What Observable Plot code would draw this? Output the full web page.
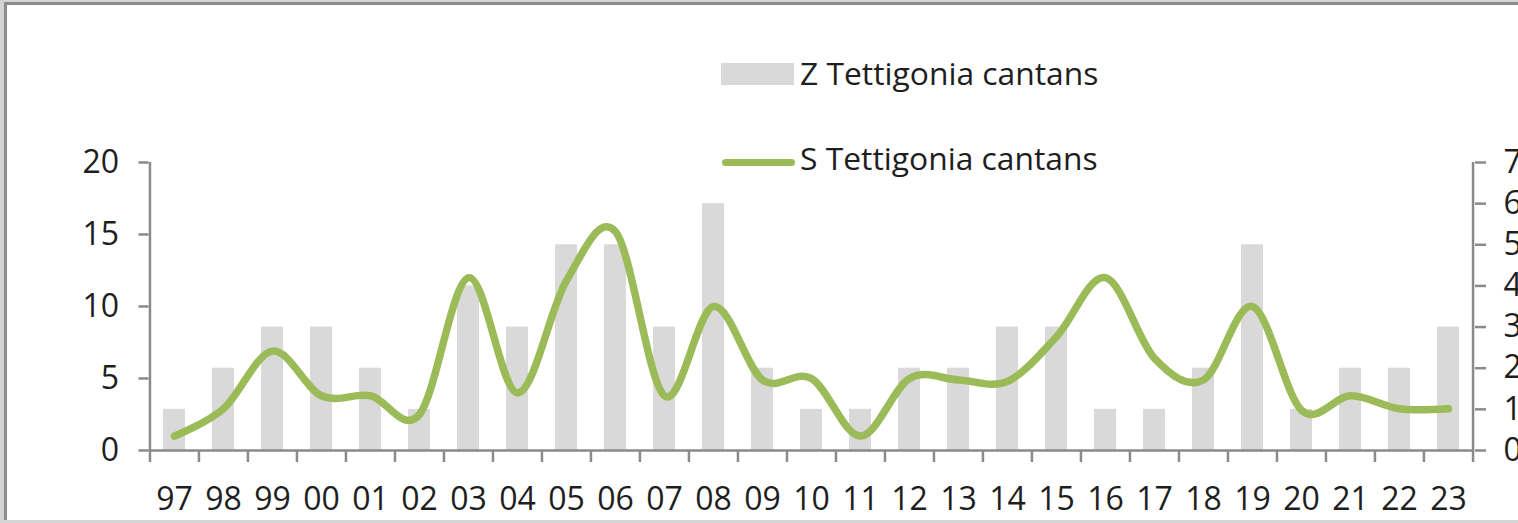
<!DOCTYPE html>
<html>
<head>
<meta charset="utf-8">
<script src="https://cdn.jsdelivr.net/npm/d3@7"></script>
<script src="https://cdn.jsdelivr.net/npm/@observablehq/plot@0.6"></script>
<style>
  html, body { margin: 0; padding: 0; }
  body { width: 1518px; height: 523px; overflow: hidden; position: relative; background: #d4d4d4; font-family: "Open Sans", sans-serif; }
  #frame { position: absolute; left: 4px; top: 2px; width: 1700px; height: 518px; box-sizing: border-box;
           border-left: 3px solid #8c8c8c; border-top: 3px solid #8c8c8c; background: #fff; }
  #chart { position: absolute; left: 0; top: 0; }
  .leg { position: absolute; font-size: 31.8px; color: #1e1e1e; white-space: nowrap; line-height: 1; }
  .sw-bar { position: absolute; left: 721px; top: 63px; width: 73px; height: 22px; background: #d9d9d9; }
  .sw-line { position: absolute; left: 722px; top: 159px; width: 73px; height: 7px; border-radius: 4px; background: #9bbb59; }
</style>
</head>
<body>
<div id="frame"></div>
<div id="chart"></div>
<div class="sw-bar"></div>
<div class="leg" id="lz" style="left:800px; top:57px;">Z Tettigonia cantans</div>
<div class="sw-line"></div>
<div class="leg" id="ls" style="left:800px; top:142px;">S Tettigonia cantans</div>
<script>
// Data
const years = ["97","98","99","00","01","02","03","04","05","06","07","08","09","10","11","12","13","14","15","16","17","18","19","20","21","22","23"];
const zValues = [1,2,3,3,2,1,4,3,5,5,3,6,2,1,1,2,2,3,3,1,1,2,5,1,2,2,3];       // right axis (0–7)
const sValues = [1.0,2.9,6.9,3.8,3.8,2.5,12,4,11.8,15.2,3.8,10,4.9,5,1,5,4.9,4.8,7.9,12,6.4,4.9,10,2.8,3.8,2.9,2.9]; // left axis (0–20)
const leftTicks = [0,5,10,15,20];
const rightTicks = [0,1,2,3,4,5,6,7];

const W = 1518, H = 523;
const mL = 148.5, mR = 44, mT = 162, mB = 73;
const leftMax = 20, rightMax = 7;
const k = leftMax / rightMax; // secondary-axis mapping
const step = (W - mL - mR) / years.length;

const rowsZ = years.map((y, i) => ({year: y, z: zValues[i]}));
const rowsS = years.map((y, i) => ({year: y, s: sValues[i]}));

const axisColor = "#8a8a8a";
const textColor = "#1e1e1e";

const chart = Plot.plot({
  width: W, height: H,
  marginLeft: mL, marginRight: mR, marginTop: mT, marginBottom: mB,
  style: {background: "transparent", fontFamily: "Open Sans", fontSize: "32px", color: textColor},
  x: {type: "band", domain: years, paddingInner: 0.545, paddingOuter: 0.2725},
  y: {domain: [0, leftMax]},
  marks: [
    Plot.barY(rowsZ, {x: "year", y: d => d.z * k, fill: "#d9d9d9"}),
    Plot.lineY(rowsS, {x: "year", y: "s", stroke: "#9bbb59", strokeWidth: 7.5, curve: "cardinal", strokeLinecap: "round", strokeLinejoin: "round"}),
    // axis lines
    Plot.ruleY([0], {stroke: axisColor, strokeWidth: 2.5}),
    Plot.ruleX([years[0]], {x: d => d, y1: 0, y2: leftMax, dx: -step / 2, stroke: axisColor, strokeWidth: 2.5}),
    Plot.ruleX([years[years.length - 1]], {x: d => d, y1: 0, y2: leftMax, dx: step / 2, stroke: axisColor, strokeWidth: 2.5}),
    // x ticks at category boundaries
    Plot.axisX({ticks: years, tickSize: 12, tickFormat: () => "", dx: -step / 2, stroke: axisColor, strokeWidth: 2.5, label: null}),
    Plot.axisX({ticks: [years[years.length - 1]], tickSize: 12, tickFormat: () => "", dx: step / 2, stroke: axisColor, strokeWidth: 2.5, label: null}),
    // x labels
    Plot.axisX({ticks: years, tickSize: 0, tickPadding: 37, fontSize: 32, fill: textColor, label: null}),
    // left y axis
    Plot.axisY({anchor: "left", ticks: leftTicks, tickSize: 10, tickPadding: 20, fontSize: 32, stroke: axisColor, strokeWidth: 2.5, fill: textColor, label: null}),
    // right y axis (secondary, 0–7)
    Plot.axisY({anchor: "right", ticks: rightTicks.map(t => t * k), tickFormat: d => String(Math.round(d / k)), tickSize: 11, tickPadding: 18, fontSize: 32, stroke: axisColor, strokeWidth: 2.5, fill: textColor, label: null})
  ]
});
document.getElementById("chart").appendChild(chart);
</script>
</body>
</html>
